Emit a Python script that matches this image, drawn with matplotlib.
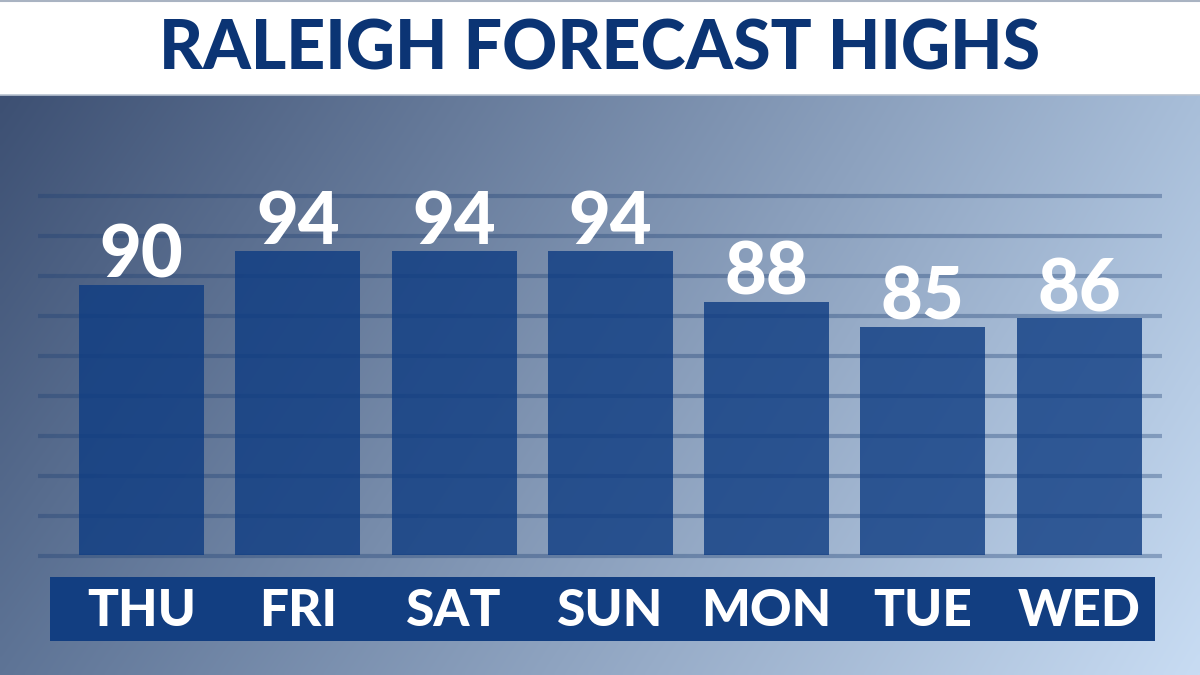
import numpy as np
import matplotlib
matplotlib.use("Agg")
import matplotlib.pyplot as plt
from matplotlib.patches import Rectangle
from matplotlib.colors import to_rgb

# ---- data ----
days = ["THU", "FRI", "SAT", "SUN", "MON", "TUE", "WED"]
highs = [90, 94, 94, 94, 88, 85, 86]
title = "RALEIGH FORECAST HIGHS"

W, H = 1200, 675
fig = plt.figure(figsize=(12, 6.75), dpi=100)

FONT = ["Lato", "DejaVu Sans"]

# ---- background axes in pixel coordinates ----
bg = fig.add_axes([0, 0, 1, 1])
bg.set_xlim(0, W)
bg.set_ylim(H, 0)
bg.axis("off")

# gradient (bilinear from corner colours)
tl = np.array(to_rgb("#3d5073"))
tr = np.array(to_rgb("#a8bed9"))
bl = np.array(to_rgb("#5e7496"))
br = np.array(to_rgb("#c8dcf3"))
nx, ny = 300, 150
u = np.linspace(0, 1, nx)[None, :, None]
v = np.linspace(0, 1, ny)[:, None, None]
grad = (1 - v) * ((1 - u) * tl + u * tr) + v * ((1 - u) * bl + u * br)
bg.imshow(grad, extent=(0, W, H, 95), aspect="auto", interpolation="bilinear", zorder=0)

# title band
bg.add_patch(Rectangle((0, 0), W, 95, facecolor="white", edgecolor="none", zorder=1))
bg.plot([0, W], [0.8, 0.8], color="#a9b3c2", lw=1.5, zorder=2)
bg.plot([0, W], [95, 95], color="#b8c2d0", lw=1.2, zorder=2)
bg.text(W / 2, 50, title, ha="center", va="center", color="#0b3474",
        fontsize=49, fontweight="black", family=FONT, zorder=3)

# grid lines
for gy in np.arange(196, 560, 40):
    bg.plot([38, 1162], [gy, gy], color="#1d3f73", alpha=0.35, lw=3,
            solid_capstyle="butt", zorder=2)

# label band
bg.add_patch(Rectangle((50, 577), 1105, 64, facecolor="#123e81", edgecolor="none", zorder=3))

# ---- bar axes ----
base = 58.0
ppd = 8.45  # pixels per degree
bottom_px = 555
top_px = 120
ymax = base + (bottom_px - top_px) / ppd
x0 = 141.5 - 78.1
wpx = 7 * 156.25
ax = fig.add_axes([x0 / W, (H - bottom_px) / H, wpx / W, (bottom_px - top_px) / H])
ax.set_xlim(-0.5, 6.5)
ax.set_ylim(base, ymax)
ax.patch.set_alpha(0)
ax.axis("off")

x = np.arange(len(days))
ax.bar(x, np.array(highs) - base, bottom=base, width=0.8,
       color="#0e3c82", alpha=0.8, zorder=3)

for xi, h in zip(x, highs):
    ax.annotate(str(h), (xi, h), xytext=(0, 5), textcoords="offset points",
                ha="center", va="baseline", color="white", fontsize=52,
                fontweight="black", family=FONT, zorder=4)

# day labels aligned with bars, vertical position in band
for xi, d in zip(x, days):
    ax.annotate(d, (xi, base), xytext=(0, -(611 - bottom_px) * 72 / 100),
                textcoords="offset points", ha="center", va="center",
                color="white", fontsize=37, fontweight="black", family=FONT,
                annotation_clip=False, zorder=4)

fig.savefig("out.png", dpi=100)
